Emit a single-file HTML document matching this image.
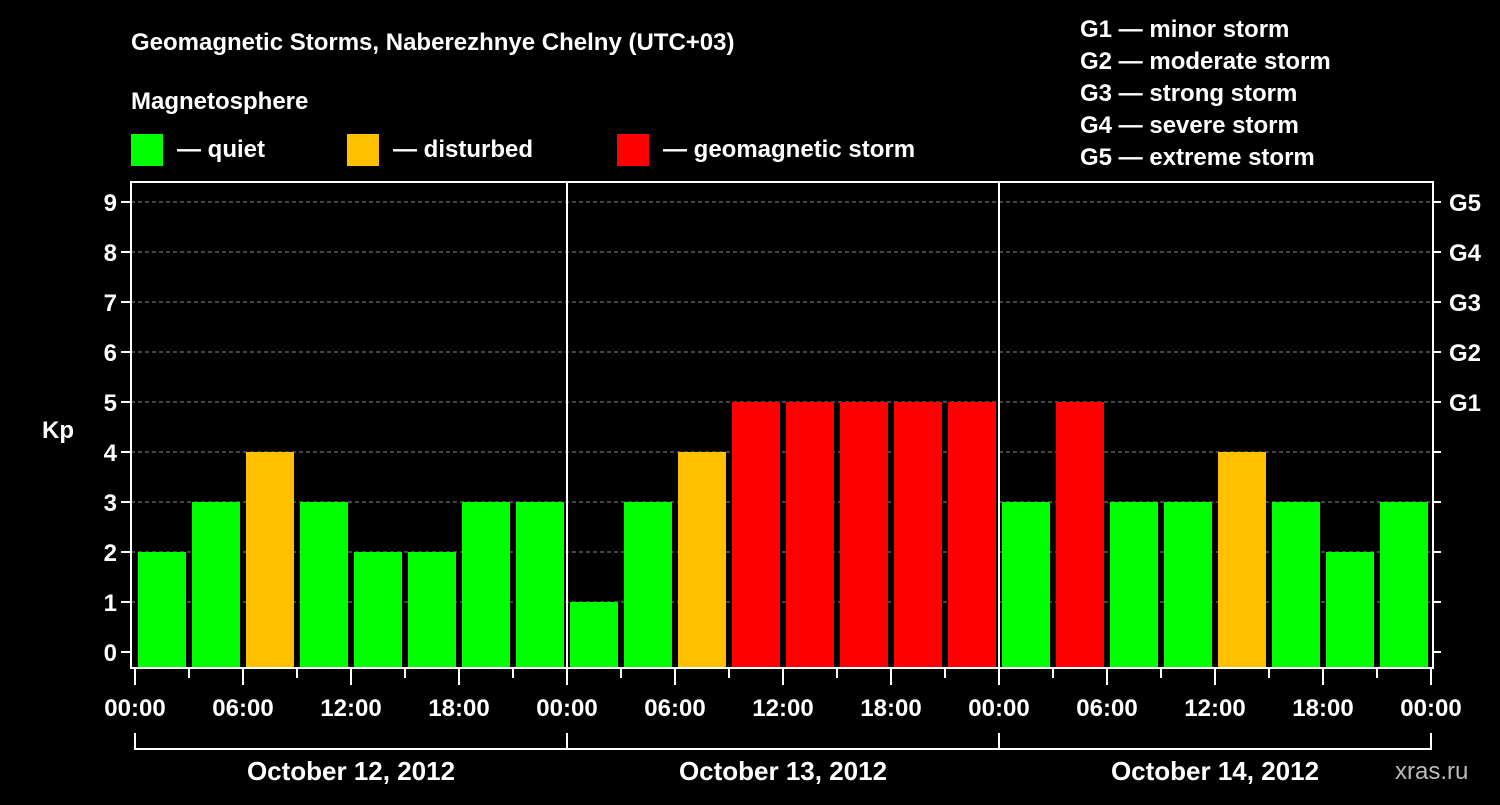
<!DOCTYPE html>
<html><head><meta charset="utf-8"><style>
body{margin:0;background:#000;width:1500px;height:800px;overflow:hidden}
svg text{font-family:"Liberation Sans",sans-serif;font-weight:bold;fill:#fff}
</style></head><body>
<svg id="c" width="1500" height="800">
<text x="131" y="50" font-size="24">Geomagnetic Storms, Naberezhnye Chelny (UTC+03)</text>
<text x="131" y="109" font-size="24">Magnetosphere</text>
<g>
<rect x="131" y="134" width="32" height="32" fill="#00ff00"/>
<text x="177" y="157" font-size="24">— quiet</text>
<rect x="347" y="134" width="32" height="32" fill="#ffc000"/>
<text x="393" y="157" font-size="24">— disturbed</text>
<rect x="617" y="134" width="32" height="32" fill="#ff0000"/>
<text x="663" y="157" font-size="24">— geomagnetic storm</text>
</g>
<g font-size="24">
<text x="1080" y="37">G1 — minor storm</text>
<text x="1080" y="69">G2 — moderate storm</text>
<text x="1080" y="101">G3 — strong storm</text>
<text x="1080" y="133">G4 — severe storm</text>
<text x="1080" y="165">G5 — extreme storm</text>
</g>
<text x="42" y="438" font-size="24">Kp</text>
<text x="1395" y="779" font-size="24" fill="#bbb" style="fill:#bbb;font-weight:normal">xras.ru</text>
<g id="g"></g>
</svg>
<script>
const kpValues=[2,3,4,3,2,2,3,3, 1,3,4,5,5,5,5,5, 3,5,3,3,4,3,2,3];
const dayLabels=["October 12, 2012","October 13, 2012","October 14, 2012"];
const hourLabels=["00:00","06:00","12:00","18:00"];
const gLabels=["G1","G2","G3","G4","G5"];
const NS="http://www.w3.org/2000/svg",g=document.getElementById('g');
const X0=135,STEP=54,L=131,R=1433,T=182,B=668;
const x=i=>X0+i*STEP, y=v=>652-50*v;
function mk(t,a,txt){const e=document.createElementNS(NS,t);for(const k in a)e.setAttribute(k,a[k]);if(txt!=null)e.textContent=txt;g.appendChild(e);return e;}
for(let v=0;v<=9;v++){
 if(v>=1){const e=mk('line',{x1:L,x2:R,y1:y(v),y2:y(v),stroke:'#888','stroke-dasharray':'4,3'});
 
 }
 const t=mk('line',{x1:L-10,x2:L,y1:y(v),y2:y(v),stroke:'#fff','stroke-width':2});
 
 
 const tr=mk('line',{x1:R,x2:R+8,y1:y(v),y2:y(v),stroke:'#fff','stroke-width':2});
 
 
 const l=mk('text',{x:L-14,y:y(v)+9,'font-size':24,'text-anchor':'end'},String(v));
 
 
 if(v>=5){const gl=mk('text',{x:1449,y:y(v)+9,'font-size':24},gLabels[v-5]);
 
 }
}
kpValues.forEach((v,i)=>{
 const c=v>=5?'#ff0000':v==4?'#ffc000':'#00ff00';
 const b=mk('rect',{x:x(i)+3,y:y(v),width:48,height:B-y(v),fill:c});
 
 
});
for(let d=1;d<3;d++){const e=mk('line',{x1:x(d*8),x2:x(d*8),y1:T,y2:B,stroke:'#fff','stroke-width':2});
 
 }
const f=mk('rect',{x:L,y:T,width:R-L,height:B-T,fill:'none',stroke:'#fff','stroke-width':2});


for(let i=0;i<=24;i++){
 const major=i%2==0;
 const t=mk('line',{x1:x(i),x2:x(i),y1:B,y2:B+(major?17:10),stroke:'#fff','stroke-width':2});
 
 
 if(major){const l=mk('text',{x:x(i),y:716,'font-size':24,'text-anchor':'middle'},hourLabels[(i/2)%4]);
 
 }
}
for(let d=0;d<3;d++){
 const p=mk('path',{d:`M${x(d*8)},733V749H${x(d*8+8)}V733`,fill:'none',stroke:'#fff','stroke-width':2});
 
 
 const l=mk('text',{x:(x(d*8)+x(d*8+8))/2,y:780,'font-size':26,'text-anchor':'middle'},dayLabels[d]);
 
 
}
</script>
</body></html>
